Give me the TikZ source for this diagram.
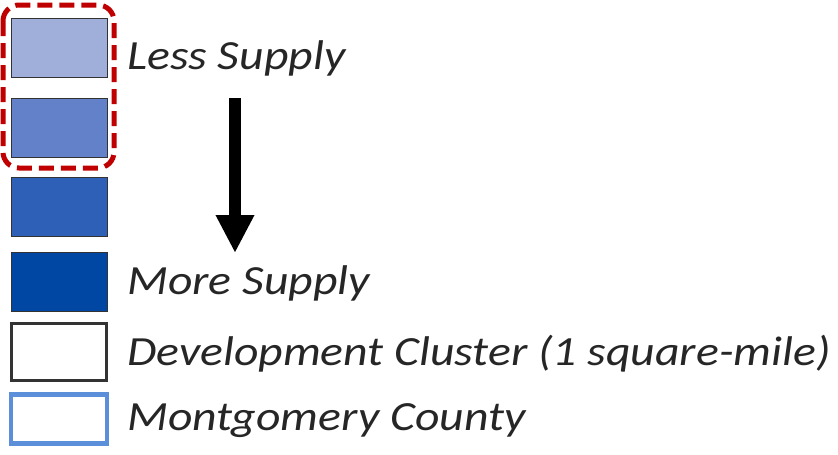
\documentclass[tikz,border=0pt]{standalone}
\usepackage{fontspec}
\setmainfont{Carlito}
\newfontfamily\legendfont[FakeStretch=1.15]{Carlito}
\usepackage{tikz,xcolor}
\usetikzlibrary{arrows.meta}

\definecolor{supplyA}{RGB}{160,174,218}
\definecolor{supplyB}{RGB}{99,129,200}
\definecolor{supplyC}{RGB}{46,96,184}
\definecolor{supplyD}{RGB}{0,71,163}
\definecolor{clusterline}{RGB}{51,51,51}
\definecolor{countyline}{RGB}{91,143,217}
\definecolor{markred}{RGB}{192,0,0}
\definecolor{labeltext}{RGB}{38,38,38}

\begin{document}
\begin{tikzpicture}[x=1pt, y=-1pt,
  swatch/.style={draw=black!80, line width=0.8pt, minimum width=96pt, minimum height=59pt, inner sep=0pt},
  legtext/.style={anchor=base west, inner sep=0pt, text=labeltext, font=\legendfont\fontsize{41.5}{48}\selectfont\itshape}]

\useasboundingbox (0,0) rectangle (838,455);

% define nodes
\node[swatch, fill=supplyA] (s1) at (59, 47.5) {};
\node[swatch, fill=supplyB] (s2) at (59, 127.5) {};
\node[swatch, fill=supplyC] (s3) at (59, 207) {};
\node[swatch, fill=supplyD] (s4) at (59, 282) {};
\node[swatch, draw=clusterline, line width=3.5pt, minimum width=95pt, minimum height=57pt] (cluster) at (59, 352) {};
\node[swatch, draw=countyline, line width=4.5pt, minimum width=96pt, minimum height=49pt] (county) at (59, 419) {};

\node[legtext] (less) at (127, 69) {Less Supply};
\node[legtext] (more) at (127, 294) {More Supply};
\node[legtext] (dev) at (127, 365) {Development Cluster (1 square-mile)};
\node[legtext] (mont) at (127, 430) {Montgomery County};

% highlight and arrow
\draw[markred, line width=5pt, dash pattern=on 15pt off 7pt, rounded corners=16pt] (3, 5) rectangle (114, 168);
\coordinate (top) at (235, 98);
\coordinate (tip) at (235, 253);
\draw[line width=12pt, -{Triangle[length=38pt, width=36pt]}] (top) -- (tip);

\end{tikzpicture}
\end{document}
